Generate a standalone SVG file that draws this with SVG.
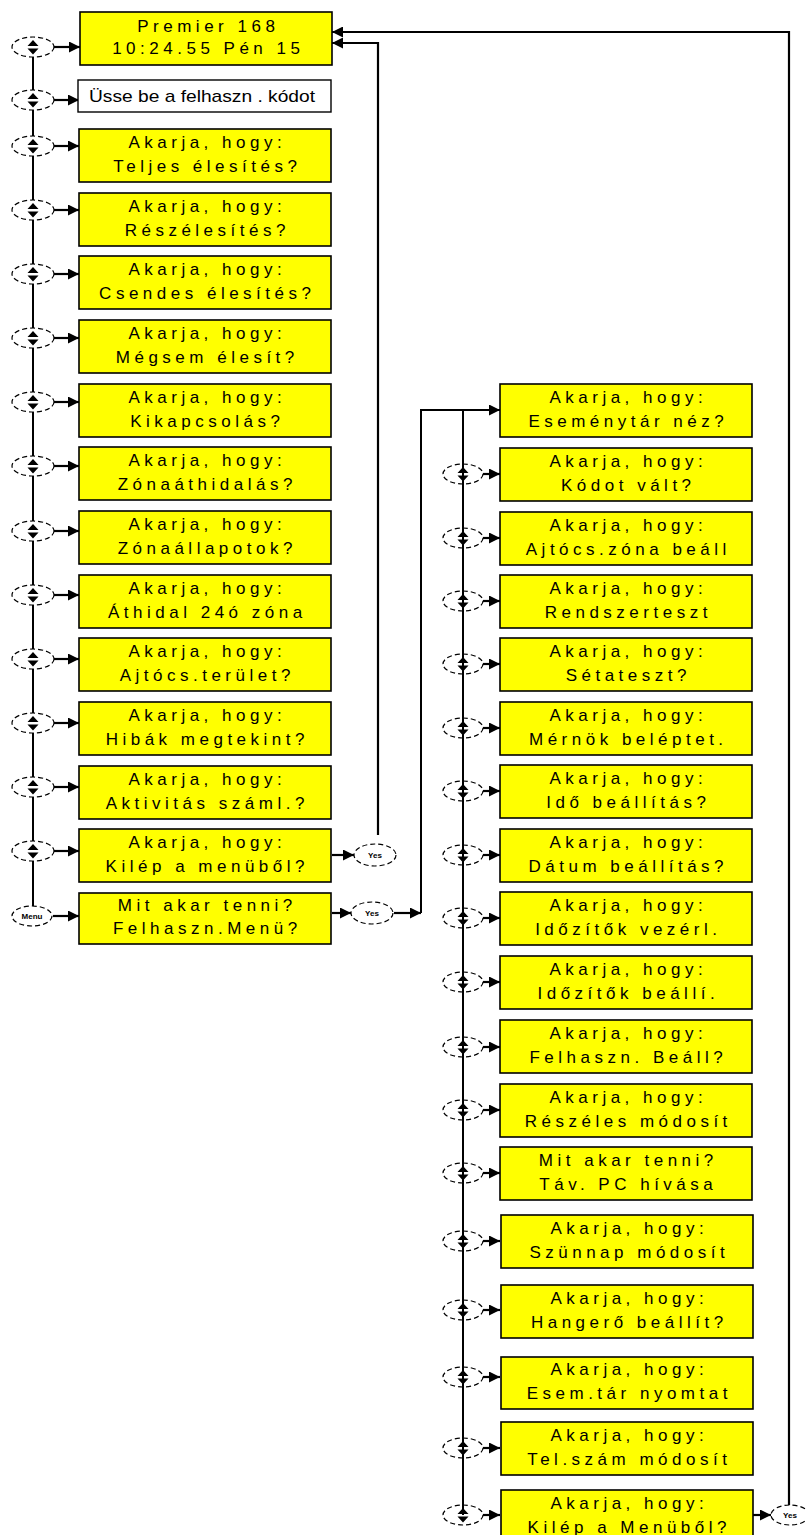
<svg xmlns="http://www.w3.org/2000/svg" xmlns:xlink="http://www.w3.org/1999/xlink" width="806" height="1535" viewBox="0 0 806 1535">
<style>
.box{fill:#ffff00;stroke:#000;stroke-width:1.6}
.wbox{fill:#fff;stroke:#000;stroke-width:1.4}
.t{font-family:"Liberation Sans",Arial,sans-serif;font-size:17px;letter-spacing:4.5px;text-anchor:middle;fill:#000}
.w{font-family:"Liberation Sans",Arial,sans-serif;font-size:17px;fill:#000}
.ln{fill:none;stroke:#000;stroke-width:2}
.ar{fill:none;stroke:#000;stroke-width:2.2;marker-end:url(#ah)}
.el{fill:#fff;stroke:#000;stroke-width:1.2;stroke-dasharray:5 3}
.eln{fill:none;stroke:#000;stroke-width:1.2;stroke-dasharray:5 3}
.bl{font-family:"Liberation Sans",Arial,sans-serif;font-size:8px;font-weight:bold;text-anchor:middle;fill:#000}
</style>
<defs>
<marker id="ah" viewBox="0 0 10 10" refX="10" refY="5" markerWidth="12" markerHeight="11" markerUnits="userSpaceOnUse" orient="auto"><path d="M0,0 L10,5 L0,10 Z" fill="#000"/></marker>
<path id="ud" d="M-5.5,-1 L0,-7 L5.5,-1 Z M-5.5,1.5 L0,7.5 L5.5,1.5 Z" fill="#000"/>
<g id="bl"><ellipse class="el" cx="0" cy="0" rx="21" ry="10"/><use xlink:href="#ud"/></g>
<g id="br"><ellipse class="eln" cx="0" cy="0" rx="20" ry="10"/><use xlink:href="#ud"/></g>
</defs>
<rect width="806" height="1535" fill="#fff"/>

<g id="connectors">
<line class="ln" x1="33" y1="47" x2="33" y2="916"/>
<line class="ln" x1="463" y1="410" x2="463" y2="1515"/>
<polyline class="ar" points="378,835 378,43 332,43"/>
<polyline class="ar" points="789,1505 789,32 332,32"/>
<polyline class="ln" points="421,913 421,410 460,410"/>
<line class="ar" x1="460" y1="410" x2="500" y2="410"/>
<line class="ar" x1="394" y1="913" x2="421" y2="913"/>
<line class="ar" x1="332" y1="855" x2="354" y2="855"/>
<line class="ar" x1="332" y1="913" x2="351" y2="913"/>
<line class="ar" x1="752" y1="1515" x2="771" y2="1515"/>
<line class="ar" x1="54" y1="47" x2="80" y2="47"/>
<line class="ar" x1="54" y1="100" x2="79" y2="100"/>
<line class="ar" x1="54" y1="146" x2="79" y2="146"/>
<line class="ar" x1="54" y1="210" x2="79" y2="210"/>
<line class="ar" x1="54" y1="274" x2="79" y2="274"/>
<line class="ar" x1="54" y1="338" x2="79" y2="338"/>
<line class="ar" x1="54" y1="402" x2="79" y2="402"/>
<line class="ar" x1="54" y1="466" x2="79" y2="466"/>
<line class="ar" x1="54" y1="531" x2="79" y2="531"/>
<line class="ar" x1="54" y1="595" x2="79" y2="595"/>
<line class="ar" x1="54" y1="659" x2="79" y2="659"/>
<line class="ar" x1="54" y1="723" x2="79" y2="723"/>
<line class="ar" x1="54" y1="787" x2="79" y2="787"/>
<line class="ar" x1="54" y1="851" x2="79" y2="851"/>
<line class="ar" x1="53" y1="916" x2="79" y2="916"/>
<line class="ar" x1="483" y1="474" x2="500" y2="474"/>
<line class="ar" x1="483" y1="538" x2="500" y2="538"/>
<line class="ar" x1="483" y1="601" x2="500" y2="601"/>
<line class="ar" x1="483" y1="664" x2="500" y2="664"/>
<line class="ar" x1="483" y1="728" x2="500" y2="728"/>
<line class="ar" x1="483" y1="791" x2="500" y2="791"/>
<line class="ar" x1="483" y1="855" x2="500" y2="855"/>
<line class="ar" x1="483" y1="918" x2="500" y2="918"/>
<line class="ar" x1="483" y1="982" x2="500" y2="982"/>
<line class="ar" x1="483" y1="1047" x2="500" y2="1047"/>
<line class="ar" x1="483" y1="1110" x2="500" y2="1110"/>
<line class="ar" x1="483" y1="1173" x2="500" y2="1173"/>
<line class="ar" x1="483" y1="1241" x2="500" y2="1241"/>
<line class="ar" x1="483" y1="1310" x2="500" y2="1310"/>
<line class="ar" x1="483" y1="1377" x2="500" y2="1377"/>
<line class="ar" x1="483" y1="1448" x2="500" y2="1448"/>
<line class="ar" x1="483" y1="1515" x2="500" y2="1515"/>
</g>

<g id="buttons">
<use xlink:href="#bl" x="33" y="47"/>
<use xlink:href="#bl" x="33" y="100"/>
<use xlink:href="#bl" x="33" y="146"/>
<use xlink:href="#bl" x="33" y="210"/>
<use xlink:href="#bl" x="33" y="274"/>
<use xlink:href="#bl" x="33" y="338"/>
<use xlink:href="#bl" x="33" y="402"/>
<use xlink:href="#bl" x="33" y="466"/>
<use xlink:href="#bl" x="33" y="531"/>
<use xlink:href="#bl" x="33" y="595"/>
<use xlink:href="#bl" x="33" y="659"/>
<use xlink:href="#bl" x="33" y="723"/>
<use xlink:href="#bl" x="33" y="787"/>
<use xlink:href="#bl" x="33" y="851"/>
<g id="btn-menu"><ellipse class="el" cx="32" cy="916" rx="20" ry="10"/><text class="bl" x="32" y="919">Menu</text></g>
<g id="btn-yes1"><ellipse class="el" cx="375" cy="855" rx="21" ry="11"/><text class="bl" x="375" y="858">Yes</text></g>
<g id="btn-yes2"><ellipse class="el" cx="372" cy="913" rx="21" ry="11"/><text class="bl" x="372" y="916">Yes</text></g>
<g id="btn-yes3"><ellipse class="el" cx="790" cy="1515" rx="19" ry="10"/><text class="bl" x="790" y="1518">Yes</text></g>
<use xlink:href="#br" x="463" y="474"/>
<use xlink:href="#br" x="463" y="538"/>
<use xlink:href="#br" x="463" y="601"/>
<use xlink:href="#br" x="463" y="664"/>
<use xlink:href="#br" x="463" y="728"/>
<use xlink:href="#br" x="463" y="791"/>
<use xlink:href="#br" x="463" y="855"/>
<use xlink:href="#br" x="463" y="918"/>
<use xlink:href="#br" x="463" y="982"/>
<use xlink:href="#br" x="463" y="1047"/>
<use xlink:href="#br" x="463" y="1110"/>
<use xlink:href="#br" x="463" y="1173"/>
<use xlink:href="#br" x="463" y="1241"/>
<use xlink:href="#br" x="463" y="1310"/>
<use xlink:href="#br" x="463" y="1377"/>
<use xlink:href="#br" x="463" y="1448"/>
<use xlink:href="#br" x="463" y="1515"/>
</g>

<g id="n-premier"><rect class="box" x="80" y="12" width="252" height="53"/><text class="t" x="208.3" y="32">Premier 168</text><text class="t" x="208.3" y="54">10:24.55 Pén 15</text></g>
<g id="n-kod"><rect class="wbox" x="78" y="80" width="253" height="32"/><text class="w" x="89" y="102" textLength="226" lengthAdjust="spacingAndGlyphs">Üsse be a felhaszn . kódot</text></g>

<g id="n-teljes"><rect class="box" x="79" y="129" width="252" height="53"/><text class="t" x="207.3" y="148">Akarja, hogy:</text><text class="t" x="207.3" y="172">Teljes élesítés?</text></g>
<g id="n-reszeles"><rect class="box" x="79" y="193" width="252" height="53"/><text class="t" x="207.3" y="212">Akarja, hogy:</text><text class="t" x="207.3" y="236">Részélesítés?</text></g>
<g id="n-csendes"><rect class="box" x="79" y="256" width="252" height="53"/><text class="t" x="207.3" y="275">Akarja, hogy:</text><text class="t" x="207.3" y="299">Csendes élesítés?</text></g>
<g id="n-megsem"><rect class="box" x="79" y="320" width="252" height="53"/><text class="t" x="207.3" y="339">Akarja, hogy:</text><text class="t" x="207.3" y="363">Mégsem élesít?</text></g>
<g id="n-kikapcs"><rect class="box" x="79" y="384" width="252" height="53"/><text class="t" x="207.3" y="403">Akarja, hogy:</text><text class="t" x="207.3" y="427">Kikapcsolás?</text></g>
<g id="n-zonaat"><rect class="box" x="79" y="447" width="252" height="53"/><text class="t" x="207.3" y="466">Akarja, hogy:</text><text class="t" x="207.3" y="490">Zónaáthidalás?</text></g>
<g id="n-zonaall"><rect class="box" x="79" y="511" width="252" height="53"/><text class="t" x="207.3" y="530">Akarja, hogy:</text><text class="t" x="207.3" y="554">Zónaállapotok?</text></g>
<g id="n-athidal"><rect class="box" x="79" y="575" width="252" height="53"/><text class="t" x="207.3" y="594">Akarja, hogy:</text><text class="t" x="207.3" y="618">Áthidal 24ó zóna</text></g>
<g id="n-ajtocster"><rect class="box" x="79" y="638" width="252" height="53"/><text class="t" x="207.3" y="657">Akarja, hogy:</text><text class="t" x="207.3" y="681">Ajtócs.terület?</text></g>
<g id="n-hibak"><rect class="box" x="79" y="702" width="252" height="53"/><text class="t" x="207.3" y="721">Akarja, hogy:</text><text class="t" x="207.3" y="745">Hibák megtekint?</text></g>
<g id="n-aktiv"><rect class="box" x="79" y="766" width="252" height="53"/><text class="t" x="207.3" y="785">Akarja, hogy:</text><text class="t" x="207.3" y="809">Aktivitás száml.?</text></g>
<g id="n-kilep1"><rect class="box" x="79" y="829" width="252" height="53"/><text class="t" x="207.3" y="848">Akarja, hogy:</text><text class="t" x="207.3" y="872">Kilép a menüből?</text></g>
<g id="n-menu"><rect class="box" x="79" y="893" width="252" height="51"/><text class="t" x="207.3" y="911">Mit akar tenni?</text><text class="t" x="207.3" y="934">Felhaszn.Menü?</text></g>

<g id="r-esemeny"><rect class="box" x="500" y="384" width="252" height="53"/><text class="t" x="628.3" y="403">Akarja, hogy:</text><text class="t" x="628.3" y="427">Eseménytár néz?</text></g>
<g id="r-kodot"><rect class="box" x="500" y="448" width="252" height="53"/><text class="t" x="628.3" y="467">Akarja, hogy:</text><text class="t" x="628.3" y="491">Kódot vált?</text></g>
<g id="r-ajtocs"><rect class="box" x="500" y="512" width="252" height="53"/><text class="t" x="628.3" y="531">Akarja, hogy:</text><text class="t" x="628.3" y="555">Ajtócs.zóna beáll</text></g>
<g id="r-rendszer"><rect class="box" x="500" y="575" width="252" height="53"/><text class="t" x="628.3" y="594">Akarja, hogy:</text><text class="t" x="628.3" y="618">Rendszerteszt</text></g>
<g id="r-seta"><rect class="box" x="500" y="638" width="252" height="53"/><text class="t" x="628.3" y="657">Akarja, hogy:</text><text class="t" x="628.3" y="681">Sétateszt?</text></g>
<g id="r-mernok"><rect class="box" x="500" y="702" width="252" height="53"/><text class="t" x="628.3" y="721">Akarja, hogy:</text><text class="t" x="628.3" y="745">Mérnök beléptet.</text></g>
<g id="r-ido"><rect class="box" x="500" y="765" width="252" height="53"/><text class="t" x="628.3" y="784">Akarja, hogy:</text><text class="t" x="628.3" y="808">Idő beállítás?</text></g>
<g id="r-datum"><rect class="box" x="500" y="829" width="252" height="53"/><text class="t" x="628.3" y="848">Akarja, hogy:</text><text class="t" x="628.3" y="872">Dátum beállítás?</text></g>
<g id="r-idozv"><rect class="box" x="500" y="892" width="252" height="53"/><text class="t" x="628.3" y="911">Akarja, hogy:</text><text class="t" x="628.3" y="935">Időzítők vezérl.</text></g>
<g id="r-idozb"><rect class="box" x="500" y="956" width="252" height="53"/><text class="t" x="628.3" y="975">Akarja, hogy:</text><text class="t" x="628.3" y="999">Időzítők beállí.</text></g>
<g id="r-felh"><rect class="box" x="500" y="1020" width="252" height="53"/><text class="t" x="628.3" y="1039">Akarja, hogy:</text><text class="t" x="628.3" y="1063">Felhaszn. Beáll?</text></g>
<g id="r-reszmod"><rect class="box" x="500" y="1084" width="252" height="53"/><text class="t" x="628.3" y="1103">Akarja, hogy:</text><text class="t" x="628.3" y="1127">Részéles módosít</text></g>
<g id="r-tavpc"><rect class="box" x="500" y="1147" width="252" height="53"/><text class="t" x="628.3" y="1166">Mit akar tenni?</text><text class="t" x="628.3" y="1190">Táv. PC hívása</text></g>
<g id="r-szunnap"><rect class="box" x="501" y="1215" width="252" height="53"/><text class="t" x="629.3" y="1234">Akarja, hogy:</text><text class="t" x="629.3" y="1258">Szünnap módosít</text></g>
<g id="r-hangero"><rect class="box" x="501" y="1285" width="252" height="53"/><text class="t" x="629.3" y="1304">Akarja, hogy:</text><text class="t" x="629.3" y="1328">Hangerő beállít?</text></g>
<g id="r-nyomtat"><rect class="box" x="501" y="1357" width="252" height="52"/><text class="t" x="629.3" y="1375">Akarja, hogy:</text><text class="t" x="629.3" y="1399">Esem.tár nyomtat</text></g>
<g id="r-telszam"><rect class="box" x="501" y="1422" width="252" height="53"/><text class="t" x="629.3" y="1441">Akarja, hogy:</text><text class="t" x="629.3" y="1465">Tel.szám módosít</text></g>
<g id="r-kilep2"><rect class="box" x="501" y="1490" width="252" height="53"/><text class="t" x="629.3" y="1509">Akarja, hogy:</text><text class="t" x="629.3" y="1533">Kilép a Menüből?</text></g>
</svg>
